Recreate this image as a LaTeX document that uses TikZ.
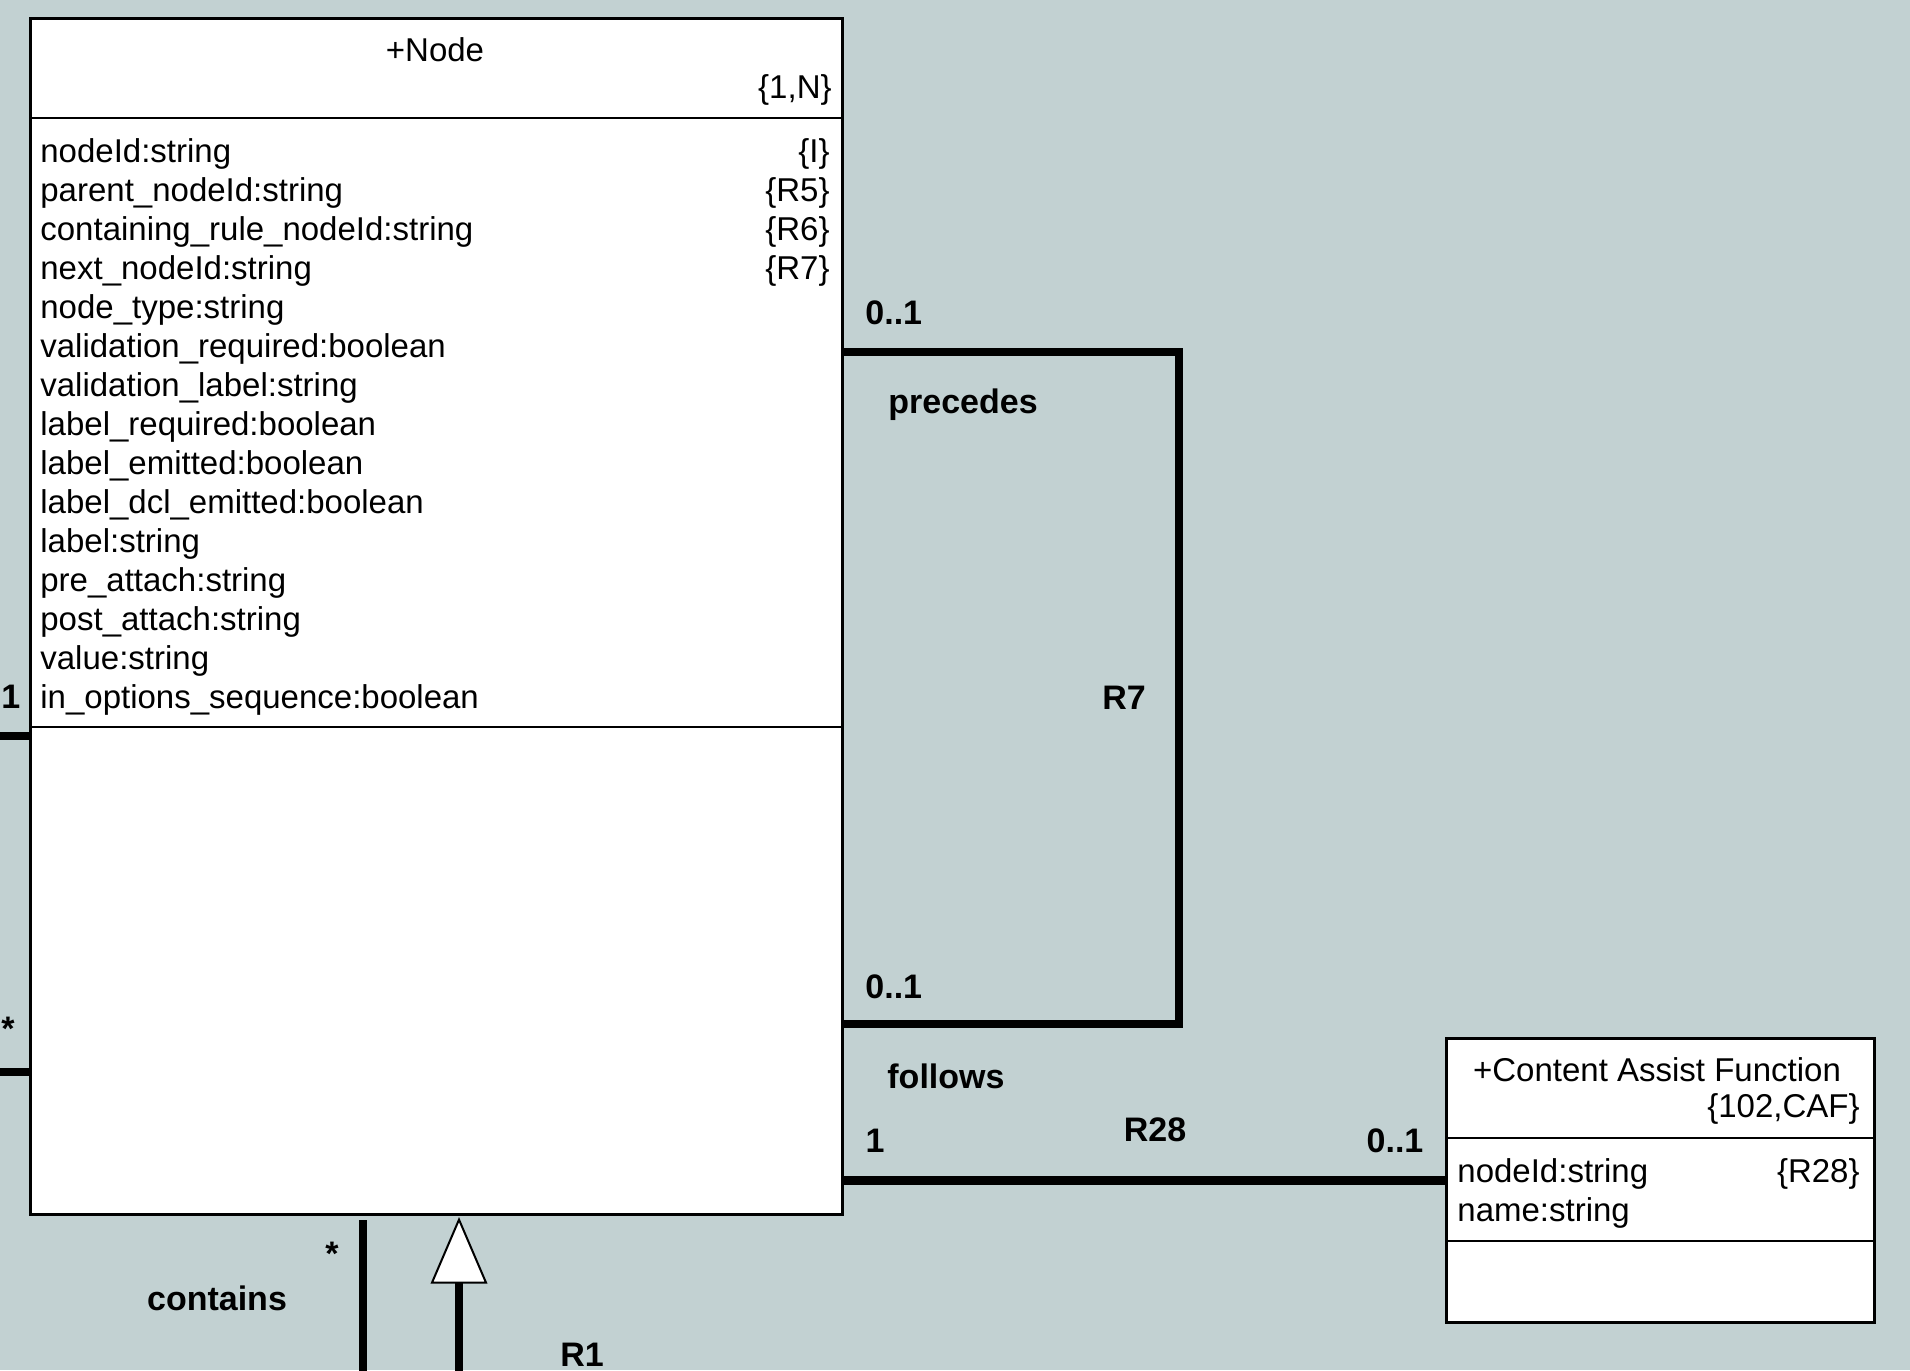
\documentclass[tikz,border=0pt]{standalone}
\usepackage{fontspec}
\setmainfont{Liberation Sans}
\usetikzlibrary{calc}
\definecolor{bgc}{RGB}{194,209,210}
\begin{document}
\begin{tikzpicture}[x=0.5pt,y=-0.5pt,
  classbox/.style={draw=black, line width=1.3pt, fill=white, inner sep=0pt, anchor=north west},
  sepline/.style={draw=black, line width=1pt},
  txt/.style={inner sep=0pt, font=\fontsize{16.5pt}{19pt}\selectfont},
  attr/.style={txt, anchor=west},
  tag/.style={txt, anchor=east},
  lbl/.style={inner sep=0pt, font=\bfseries\fontsize{17pt}{20pt}\selectfont},
  assoc/.style={draw=black, line width=4.2pt, line join=miter},
  genhead/.style={draw=black, line width=1pt, fill=white, line join=miter},
]
\fill[bgc] (0,0) rectangle (1910,1370);
\useasboundingbox (0,0) rectangle (1910,1370);

% ---- Node class ----
\node[classbox, minimum width=406pt, minimum height=598pt] (nodebox) at (29,17) {};
\draw[sepline] (nodebox.west |- 0,118) -- (nodebox.east |- 0,118);
\draw[sepline] (nodebox.west |- 0,727) -- (nodebox.east |- 0,727);
\node[txt] (ntitle) at (435,50) {+Node};
\node[tag] (nkey) at (832,90) {\{1,N\}};

\foreach \t [count=\i] in {nodeId:string, parent\_nodeId:string, containing\_rule\_nodeId:string,
  next\_nodeId:string, node\_type:string, validation\_required:boolean, validation\_label:string,
  label\_required:boolean, label\_emitted:boolean, label\_dcl\_emitted:boolean, label:string,
  pre\_attach:string, post\_attach:string, value:string, in\_options\_sequence:boolean}
  \node[attr] (a\i) at (40,{154+39*(\i-1)}) {\t};
\node[tag] (t1) at (830,154) {\{I\}};
\node[tag] (t2) at (830,193) {\{R5\}};
\node[tag] (t3) at (830,232) {\{R6\}};
\node[tag] (t4) at (830,271) {\{R7\}};

% ---- Content Assist Function class ----
\node[classbox, minimum width=214pt, minimum height=142pt] (cafbox) at (1445,1037) {};
\draw[sepline] (cafbox.west |- 0,1138) -- (cafbox.east |- 0,1138);
\draw[sepline] (cafbox.west |- 0,1241) -- (cafbox.east |- 0,1241);
\node[txt] (ctitle) at (1657,1070) {+Content Assist Function};
\node[tag] (ckey) at (1860,1109) {\{102,CAF\}};
\node[attr] (c1) at (1457,1174) {nodeId:string};
\node[tag] (c1t) at (1860,1174) {\{R28\}};
\node[attr] (c2) at (1457,1213) {name:string};

% ---- R7 (reflexive) ----
\coordinate (r7a) at (1179,352);
\coordinate (r7b) at (1179,1024);
\draw[assoc] (nodebox.east |- r7a) -- (r7a) -- (r7b) -- (nodebox.east |- r7b);
\node[lbl, anchor=west] (m1) at (865,313) {0..1};
\node[lbl, anchor=west] (p1) at (888,405) {precedes};
\node[lbl] (r7) at (1124,698) {R7};
\node[lbl, anchor=west] (m2) at (865,987) {0..1};
\node[lbl, anchor=west] (f1) at (887,1076) {follows};

% ---- R28 ----
\draw[assoc] (nodebox.east |- cafbox.west) -- (cafbox.west);
\node[lbl] (m3) at (875,1141) {1};
\node[lbl] (r28) at (1155,1130) {R28};
\node[lbl] (m4) at (1395,1141) {0..1};

% ---- left connectors ----
\coordinate (l1) at (0,736);
\coordinate (l2) at (0,1072);
\draw[assoc] (l1) -- (nodebox.west |- l1);
\draw[assoc] (l2) -- (nodebox.west |- l2);
\node[lbl, anchor=west] (m5) at (1,697) {1};
\node[lbl, anchor=west] (m6) at (1,1029) {*};

% ---- contains (bottom) ----
\coordinate (cb) at (363,1385);
\draw[assoc, shorten >=2pt] (cb) -- (cb |- nodebox.south);
\node[lbl] (m7) at (332,1254) {*};
\node[lbl] (cn) at (217,1298) {contains};

% ---- R1 generalisation ----
\coordinate (gb) at (459,1385);
\coordinate (gtip) at (gb |- nodebox.south);
\draw[assoc] (gb) -- ++(0,-107);
\draw[genhead] ([yshift=-2pt]gtip) -- ++(-27,63) -- ++(54,0) -- cycle;
\node[lbl, anchor=base west] (r1) at (560,1366) {R1};
\end{tikzpicture}
\end{document}
